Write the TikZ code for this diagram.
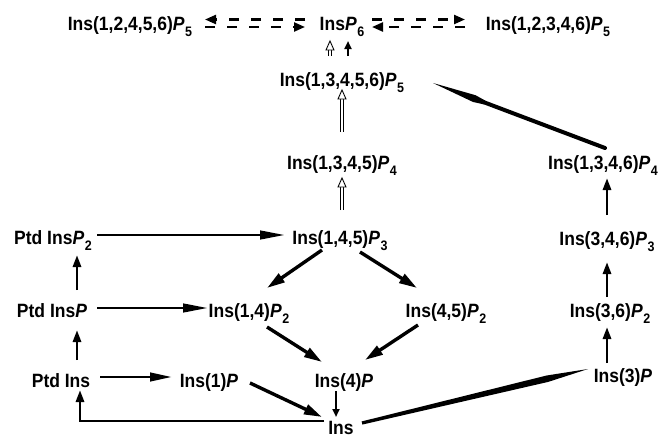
\documentclass[tikz,border=0pt]{standalone}
\usepackage{graphicx}
\usepackage{fontspec}
\setmainfont{Liberation Sans}
\usetikzlibrary{arrows.meta,calc}

% label text: bold sans, slightly tall
\newcommand{\T}[1]{\scalebox{1}[1.1]{#1}}
% italic P with a lowered index
\newcommand{\Psub}[1]{\textit{P}\kern0.6pt\raisebox{-0.32em}{\fontsize{12.5}{12.5}\selectfont#1}}

\tikzset{
  lab/.style={font=\fontsize{17.5}{21}\selectfont\bfseries, inner sep=0pt, text height=14pt, text depth=0pt},
  harrow/.style={line width=2.8pt, -{Triangle[length=25pt,width=8.5pt]}},
  darrow/.style={line width=3.4pt, -{Triangle[length=18pt,width=10pt]}},
  varrow/.style={line width=2.8pt, -{Triangle[length=12pt,width=8pt]}},
  dasharrow/.style={line width=2.3pt, dash pattern=on 10pt off 12pt, -{Triangle[length=11pt,width=9pt]}},
  hollowshaft/.style={line width=0.9pt, double=white, double distance=2.4pt},
  hollowhead/.style={line width=0.9pt, fill=white, line join=miter},
}

% open (outlined) arrow pointing up from #1 to #2
\newcommand{\hollowup}[2]{%
  \draw[hollowshaft] (#1) -- ($(#2)+(0,9)$);
  \draw[hollowhead] ($(#2)+(-4,9)$) -- (#2) -- ($(#2)+(4,9)$) -- cycle;
}

\begin{document}
\begin{tikzpicture}[x=1pt,y=-1pt]
\fill[white] (0,0) rectangle (658,439);
\useasboundingbox (0,0) rectangle (658,439);

% ---- nodes ----
\node[lab] (l5)  at (130,23)  {\T{Ins(1,2,4,5,6)\Psub{5}}};
\node[lab] (p6)  at (342,23)  {\T{Ins\Psub{6}}};
\node[lab] (r5)  at (548,23)  {\T{Ins(1,2,3,4,6)\Psub{5}}};
\node[lab] (m5)  at (342,79)  {\T{Ins(1,3,4,5,6)\Psub{5}}};
\node[lab] (m4)  at (342,162) {\T{Ins(1,3,4,5)\Psub{4}}};
\node[lab] (r4)  at (603,162) {\T{Ins(1,3,4,6)\Psub{4}}};
\node[lab] (pp2) at (53,237)  {\T{Ptd Ins\Psub{2}}};
\node[lab] (m3)  at (340,237) {\T{Ins(1,4,5)\Psub{3}}};
\node[lab] (r3)  at (607,238) {\T{Ins(3,4,6)\Psub{3}}};
\node[lab] (pp)  at (52,310)  {\T{Ptd Ins\textit{P}}};
\node[lab] (a2)  at (249,310) {\T{Ins(1,4)\Psub{2}}};
\node[lab] (b2)  at (446,310) {\T{Ins(4,5)\Psub{2}}};
\node[lab] (r2)  at (610,310) {\T{Ins(3,6)\Psub{2}}};
\node[lab] (pt)  at (61,380)  {\T{Ptd Ins}};
\node[lab] (a1)  at (209,380) {\T{Ins(1)\textit{P}}};
\node[lab] (b1)  at (344,380) {\T{Ins(4)\textit{P}}};
\node[lab] (r1)  at (623,375) {\T{Ins(3)\textit{P}}};
\node[lab] (ins) at (341,427) {\T{Ins}};

% ---- dashed two-way links on the top row ----
\draw[dasharrow] ($(p6)+(-37,-3.5)$) -- ($(l5)+(75,-3.5)$);
\draw[dasharrow] ($(l5)+(75,4)$) -- ($(p6)+(-37,4)$);
\draw[dasharrow] ($(p6)+(30,-3.5)$) -- ($(r5)+(-83,-3.5)$);
\draw[dasharrow] ($(r5)+(-83,4)$) -- ($(p6)+(30,4)$);

% ---- open arrows up the middle column ----
\hollowup{$(m5)+(-12,-23)$}{$(p6)+(-12,18)$}
\draw[varrow, -{Triangle[length=8pt,width=7pt]}] ($(m5)+(6,-23)$) -- ($(p6)+(6,18)$);
\hollowup{$(m4)+(0,-30)$}{$(m5)+(0,11)$}
\hollowup{$(m3)+(2,-27)$}{$(m4)+(0,16)$}

% ---- left column and horizontals ----
\draw[varrow] ($(pp)+(25,-20)$) -- ($(pp2)+(24,18)$);
\draw[varrow] ($(pt)+(16,-20)$) -- ($(pp)+(25,20)$);
\draw[harrow] ($(pp2)+(44,-2)$) -- ($(m3)+(-55,-2)$);
\draw[harrow] ($(pp)+(45,-2)$) -- ($(a2)+(-41,-2)$);
\draw[harrow, -{Triangle[length=22pt,width=8.5pt]}] ($(pt)+(39,-3)$) -- ($(a1)+(-37,-3)$);
\draw[varrow] ($(ins)+(-17,-6)$) -| ($(pt)+(19,10)$);

% ---- diamond ----
\draw[darrow] ($(m3)+(-18,13)$) -- ($(a2)+(18,-22)$);
\draw[darrow] ($(m3)+(20,15)$) -- ($(b2)+(-29,-22)$);
\draw[darrow] ($(a2)+(18,17)$) -- ($(b1)+(-22,-18)$);
\draw[darrow] ($(b2)+(-28,15)$) -- ($(b1)+(21,-20)$);
\draw[darrow] ($(a1)+(41,3)$) -- ($(ins)+(-19,-10)$);
\draw[varrow, line width=2.4pt, -{Triangle[length=8pt,width=7pt]}] ($(b1)+(-8,11)$) -- ($(ins)+(-5,-10)$);

% ---- right column ----
\draw[varrow] ($(r1)+(-16,-12)$) -- ($(r2)+(-3,17)$);
\draw[varrow] ($(r2)+(-3,-13)$) -- ($(r3)+(0,24)$);
\draw[varrow] ($(r3)+(0,-23)$) -- ($(r4)+(4,16)$);

% ---- long tapered link from Ins to Ins(3)P ----
\coordinate (ta) at ($(ins)+(21,-4)$);
\coordinate (tb) at ($(r1)+(-35,-6)$);
\coordinate (tm) at ($(ta)!0.82!(tb)$);
\fill[black] ($(ta)!1.6pt!90:(tb)$) -- ($(tm)!3.3pt!90:(tb)$) -- (tb)
  -- ($(tm)!3.3pt!-90:(tb)$) -- ($(ta)!1.6pt!-90:(tb)$) -- cycle;

% ---- thick link with a spear head from Ins(1,3,4,6)P4 to Ins(1,3,4,5,6)P5 ----
\coordinate (rs) at ($(r4)+(2,-14)$);
\coordinate (rt) at ($(m5)+(91,4)$);
\coordinate (rh) at ($(rs)!0.70!(rt)$);
\coordinate (rw) at ($(rs)!0.76!(rt)$);
\draw[line width=4pt, line cap=round] (rs) -- ($(rs)!0.72!(rt)$);
\fill[black] ($(rh)!2pt!90:(rt)$) -- ($(rw)!3.6pt!90:(rt)$) -- (rt)
  -- ($(rw)!3.6pt!-90:(rt)$) -- ($(rh)!2pt!-90:(rt)$) -- cycle;
\end{tikzpicture}
\end{document}
